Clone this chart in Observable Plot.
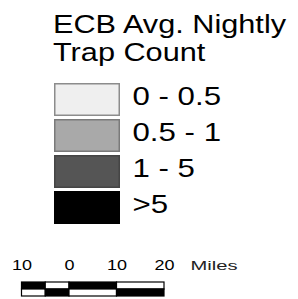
<!DOCTYPE html>
<html>
<head>
<meta charset="utf-8">
<script src="https://cdn.jsdelivr.net/npm/d3@7"></script>
<script src="https://cdn.jsdelivr.net/npm/@observablehq/plot@0.6"></script>
<style>
  html, body { margin: 0; padding: 0; background: #fff; }
  #wrap { position: relative; width: 298px; height: 299px; overflow: hidden; font-family: "Liberation Sans", Arial, sans-serif; }
  #title { position: absolute; left: 53px; top: 10px; font-size: 26px; line-height: 28px; color: #000; white-space: nowrap; }
  #title div { transform: scaleX(1.18); transform-origin: left; }
  .layer { position: absolute; left: 0; }
  svg text { font-family: "Liberation Sans", Arial, sans-serif; }
</style>
</head>
<body>
<div id="wrap">
  <div id="title"></div>
</div>
<script>
// ---- data ----
const titleLines = ["ECB Avg. Nightly", "Trap Count"];
const categories = ["0 - 0.5", "0.5 - 1", "1 - 5", ">5"];
const fills = ["#efefef", "#a9a9a9", "#555555", "#000000"];
const strokes = ["#8c8c8c", "#7a7a7a", "#454545", "#000000"];
const scaleBreaks = [-10, -5, 0, 10, 20];   // miles
const scaleTicks = [-10, 0, 10, 20];
const scaleUnit = "Miles";

const wrap = document.getElementById("wrap");
const title = document.getElementById("title");
for (const t of titleLines) {
  const d = document.createElement("div");
  d.textContent = t;
  title.appendChild(d);
}

const legendRows = categories.map((c, i) => ({label: c, fill: fills[i], stroke: strokes[i]}));

const legend = Plot.plot({
  width: 298,
  height: 232,
  marginLeft: 54,
  marginRight: 178,
  marginTop: 0,
  marginBottom: 0,
  x: {axis: null},
  y: {domain: categories, range: [82, 225], paddingInner: 0.09, paddingOuter: 0, axis: null},
  marks: [
    Plot.cell(legendRows, {y: "label", fill: "fill", stroke: "stroke", strokeWidth: 1.5, inset: 0.75}),
    Plot.text(legendRows, {y: "label", text: "label", frameAnchor: "right", textAnchor: "start", dx: 12, dy: -3, fontSize: 26, fill: "#000"})
  ]
});
legend.classList.add("layer");
legend.style.top = "0px";
wrap.appendChild(legend);

// scale bar segments: alternating black / white in two rows
const segs = [];
for (let i = 0; i < scaleBreaks.length - 1; i++) {
  const topBlack = i % 2 === 0;
  segs.push({start: scaleBreaks[i], end: scaleBreaks[i + 1], row: "top", fill: topBlack ? "#000" : "#fff"});
  segs.push({start: scaleBreaks[i], end: scaleBreaks[i + 1], row: "bottom", fill: topBlack ? "#fff" : "#000"});
}

const bar = Plot.plot({
  width: 298,
  height: 49,
  marginTop: 0,
  marginBottom: 0,
  marginLeft: 0,
  marginRight: 0,
  x: {domain: [-10, 20], range: [21.5, 164], axis: null},
  y: {domain: ["top", "bottom"], range: [32, 46], padding: 0, axis: null},
  marks: [
    Plot.barX(segs, {x1: "start", x2: "end", y: "row", fill: "fill", stroke: "#000", strokeWidth: 1.2, inset: 0}),
    Plot.text(scaleTicks, {x: d => d, text: d => String(Math.abs(d)), frameAnchor: "top", dy: 9, fontSize: 15, fill: "#000"}),
    Plot.text([scaleUnit], {x: () => 20, text: d => d, frameAnchor: "top", dy: 10, dx: 26, textAnchor: "start", fontSize: 13, fill: "#222"})
  ]
});
bar.classList.add("layer");
bar.style.top = "250px";
wrap.appendChild(bar);

// horizontal stretch of the lettering, as in the reference
for (const t of wrap.querySelectorAll("svg text")) {
  const w = t.getComputedTextLength();
  const k = t.textContent === scaleUnit ? 1.55 : 1.2;
  t.setAttribute("textLength", (w * k).toFixed(1));
  t.setAttribute("lengthAdjust", "spacingAndGlyphs");
}
</script>
</body>
</html>
